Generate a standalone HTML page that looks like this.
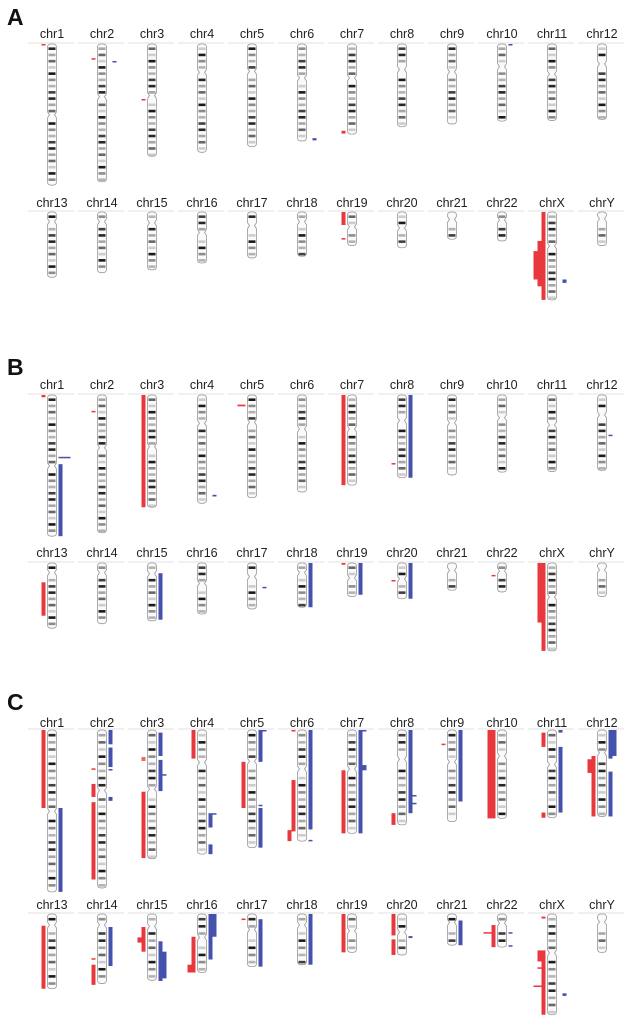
<!DOCTYPE html>
<html><head><meta charset="utf-8">
<style>
html,body{margin:0;padding:0;background:#fff;}
svg{display:block;font-family:"Liberation Sans",sans-serif;}
</style></head>
<body>
<svg id="fig" width="631" height="1031" viewBox="0 0 631 1031" xmlns="http://www.w3.org/2000/svg"></svg>
<script>
// chromosome names, lengths (Mb), centromeres (Mb)
const chroms = ["chr1","chr2","chr3","chr4","chr5","chr6","chr7","chr8","chr9","chr10","chr11","chr12","chr13","chr14","chr15","chr16","chr17","chr18","chr19","chr20","chr21","chr22","chrX","chrY"];
const lengths = [249,243,198,191,181,171,159,146,141,136,135,133,115,107,102,90,81,78,59,63,48,51,155,59];
const centros = [125,93,91,50,48,60,60,45,49,40,53,35,17,17,19,36,24,17,26,28,13,14,60,12];
// generic band darkness pattern (cycled every 11 Mb)
const bandShades = [0.85,0.35,0.6,0.2,0.9,0.45,0.3,0.75];
// CNV segments per panel: [chrom, side (L=gain red, R=loss blue), layer, startMb, endMb]
const segsA = [["chr1","L",1,0,1.5],["chr2","L",1,25,26],["chr2","R",2,30,31],["chr3","L",1,97,98],["chr6","R",2,166,170],["chr7","L",1,153,158],["chr10","R",1,0,1.5],
 ["chr19","L",1,0,23],["chr19","L",1,46,47],["chrX","L",1,0,155],["chrX","L",2,51,131],["chrX","L",3,69,119],["chrX","R",2,119,125]];
const segsB = [["chr1","L",1,0,4],["chr1","R",1,109,111],["chr1","R",2,109,111],["chr1","R",3,109,111],["chr1","R",1,122,249],["chr2","L",1,28,29],["chr3","L",1,0,198],["chr4","R",2,176,179],["chr5","L",1,17,20],["chr5","L",2,17,20],["chr7","L",1,0,159],["chr8","R",1,0,146],["chr8","L",1,120,121.5],["chr12","R",1,70,71],
 ["chr13","L",1,34,93],["chr15","R",1,18,100],["chr17","R",2,42,44],["chr18","R",1,0,78],["chr19","L",1,0,3],["chr19","R",1,0,56],["chr20","L",1,30,31.5],["chr20","R",1,0,63],["chr22","L",1,21,22],["chrX","L",1,0,155],["chrX","L",2,0,105]];
const segsC = [["chr1","L",1,0,120],["chr1","R",1,120,249],
 ["chr2","R",1,0,22],["chr2","R",1,27,57],["chr2","R",1,60,61.5],["chr2","L",1,59,60.5],["chr2","L",1,83,103],["chr2","R",1,103,109],["chr2","L",1,111,230],
 ["chr3","L",1,42,43.5],["chr3","L",1,45,46.5],["chr3","R",1,4,40],["chr3","R",1,46,94],["chr3","R",2,68,69],["chr3","L",1,95,197],
 ["chr4","L",1,0,44],["chr4","R",1,128,150],["chr4","R",2,128,130],["chr4","R",1,176,191],
 ["chr5","R",1,0,49],["chr5","R",2,0,1.5],["chr5","L",1,49,120],["chr5","R",1,115,116.5],["chr5","R",1,120,181],
 ["chr6","L",1,0,1.5],["chr6","R",1,0,153],["chr6","L",1,77,156],["chr6","L",2,154,171],["chr6","R",1,169,171],
 ["chr7","R",1,0,159],["chr7","R",2,0,1.5],["chr7","R",2,54,62],["chr7","L",1,62,159],
 ["chr8","R",1,0,128],["chr8","R",2,100,101],["chr8","R",2,112,113],["chr8","L",1,128,146],
 ["chr9","L",1,21,22.5],["chr9","R",1,0,110],
 ["chr10","L",1,0,136],["chr10","L",2,0,136],
 ["chr11","L",1,4,26],["chr11","L",1,127,135],["chr11","R",1,0,4],["chr11","R",1,26,127],
 ["chr12","R",1,0,44],["chr12","R",2,0,40],["chr12","R",1,64,133],["chr12","L",1,40,133],["chr12","L",2,45,66],
 ["chr13","L",1,18,115],["chr14","R",1,20,80],["chr14","L",1,68,69.5],["chr14","L",1,78,109],
 ["chr15","L",1,20,58],["chr15","L",2,36,44],["chr15","R",1,42,103],["chr15","R",2,58,99],
 ["chr16","R",1,0,70],["chr16","R",2,0,35],["chr16","L",1,35,90],["chr16","L",2,78,90],
 ["chr17","L",1,7,8.5],["chr17","R",1,8,81],["chr18","R",1,0,78],["chr19","L",1,0,59],
 ["chr20","L",1,0,33],["chr20","L",1,39,63],["chr20","R",1,34,37],["chr21","R",1,10,48],
 ["chr22","L",1,17,51],["chr22","L",2,28,29],["chr22","L",3,28,29],["chr22","R",1,28,29],["chr22","R",1,48,49.5],
 ["chrX","L",1,4,7],["chrX","L",1,56,155],["chrX","L",2,56,73],["chrX","L",2,82,83.5],["chrX","L",2,110,111],["chrX","L",3,110,111],["chrX","R",2,122,126]];

const panels = [
 {letter:"A", ly:25, scale:0.567, tops:[44,212], labels:[38,207], segs:segsA},
 {letter:"B", ly:375, scale:0.567, tops:[395,563], labels:[389,557], segs:segsB},
 {letter:"C", ly:710, scale:0.65, tops:[730,914], labels:[727,909], segs:segsC}
];
const NS="http://www.w3.org/2000/svg";
const svg=document.getElementById('fig');
function mk(tag,attrs,parent){const e=document.createElementNS(NS,tag);for(const k in attrs)e.setAttribute(k,attrs[k]);(parent||svg).appendChild(e);return e;}
function colX(i){return 52+50*(i%12);}
const BW=9, SW=4;

panels.forEach((p,pi)=>{
  const g=mk('g',{});
  
  
  const L=mk('text',{x:7,y:p.ly,'font-size':23,'font-weight':'bold',fill:'#111'},g);
  L.textContent=p.letter;
  
  
  chroms.forEach((c,i)=>{
    const row=Math.floor(i/12), cx=colX(i), top=p.tops[row];
    const h=lengths[i]*p.scale, cy=top+centros[i]*p.scale;
    const cg=mk('g',{},g);
    
    
    mk('line',{x1:cx-24,x2:cx+22,y1:top-1,y2:top-1,stroke:'#e2e2e2','stroke-width':1},cg);
    const t=mk('text',{x:cx,y:p.labels[row],'font-size':12.5,'text-anchor':'middle',fill:'#222'},cg);
    t.textContent=c;
    
    
    const x0=cx-BW/2;
    mk('rect',{x:x0,y:top,width:BW,height:h,rx:3.5,fill:'#fafafa'},cg);
    // bands every 11 Mb
    let k=0;
    for(let mb=6; mb<lengths[i]-4; mb+=11, k++){
      const y1=top+mb*p.scale;
      if(Math.abs(y1-cy)<4) continue;
      const d=bandShades[(k+i)%bandShades.length];
      const v=Math.round(255*(1-d));
      mk('rect',{x:x0+1,y:y1,width:BW-2,height:2.6,fill:`rgb(${v},${v},${v})`},cg);
    }
    const r=3.5;
    mk('path',{d:`M${x0+r},${top} L${x0+BW-r},${top} Q${x0+BW},${top} ${x0+BW},${top+r} L${x0+BW},${cy-3} L${x0+BW-2},${cy} L${x0+BW},${cy+3} L${x0+BW},${top+h-r} Q${x0+BW},${top+h} ${x0+BW-r},${top+h} L${x0+r},${top+h} Q${x0},${top+h} ${x0},${top+h-r} L${x0},${cy+3} L${x0+2},${cy} L${x0},${cy-3} L${x0},${top+r} Q${x0},${top} ${x0+r},${top} Z`,fill:'none',stroke:'#999','stroke-width':0.8},cg);
  });
  p.segs.forEach(s=>{
    const i=chroms.indexOf(s[0]), row=Math.floor(i/12), cx=colX(i), top=p.tops[row];
    const y1=top+s[3]*p.scale, y2=top+s[4]*p.scale;
    const hgt=Math.max(1.5,y2-y1);
    let x;
    if(s[1]==="L") x=cx-BW/2-2-SW*s[2]; else x=cx+BW/2+2+SW*(s[2]-1);
    const r=mk('rect',{x:x,y:y1,width:SW,height:hgt,fill:s[1]==="L"?'#e8383d':'#4552ad'},g);
    
    
  });
});
</script>
</body></html>
